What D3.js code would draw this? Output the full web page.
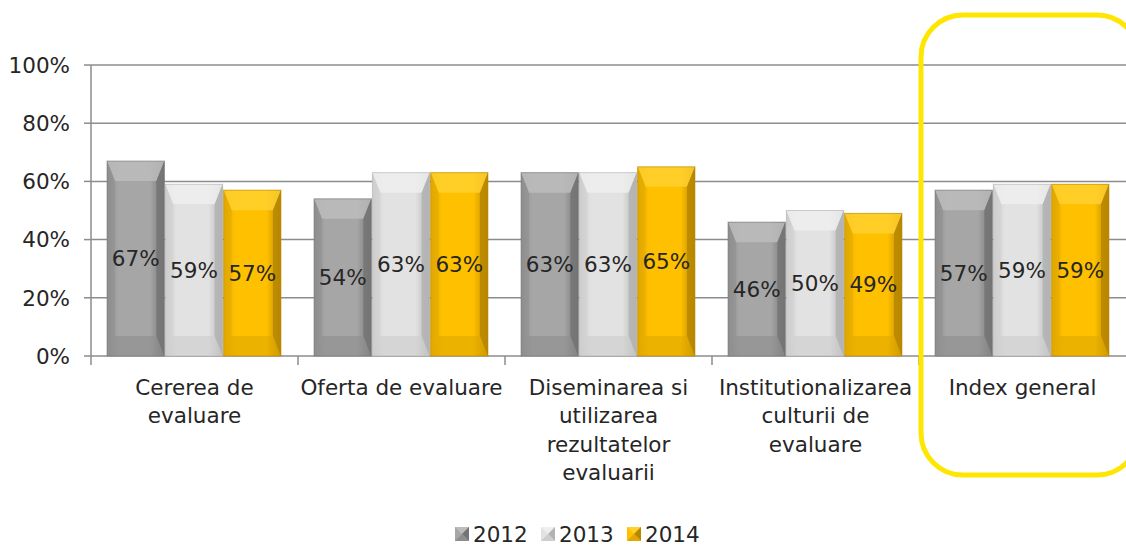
<!DOCTYPE html>
<html><head><meta charset="utf-8">
<script src="https://cdn.jsdelivr.net/npm/d3@7"></script>
<style>body{margin:0;background:#fff}svg{display:block}</style>
</head><body><svg id="c" width="1126" height="546"></svg>
<script>
const categories = [["Cererea de","evaluare"],["Oferta de evaluare"],["Diseminarea si","utilizarea","rezultatelor","evaluarii"],["Institutionalizarea","culturii de","evaluare"],["Index general"]];
const years = ["2012","2013","2014"];
const v2012 = [67,54,63,46,57];
const v2013 = [59,63,63,50,59];
const v2014 = [57,63,65,49,59];
const yTicks = [0,20,40,60,80,100];

const series = [v2012, v2013, v2014];
const colors = [
  {main:"#a6a6a6", light:"#bcbcbc", dark:"#747474", side:"#8e8e8e"},
  {main:"#e2e2e2", light:"#efefef", dark:"#b3b3b3", side:"#cdcdcd"},
  {main:"#ffc000", light:"#ffd02e", dark:"#b88700", side:"#e0a800"}
];
const font = "DejaVu Sans";
const fs = 21.5;
const svg = d3.select("#c");
const L = 91, R = 1126, T = 65, B = 356;
const x0 = d3.scaleBand().domain(d3.range(categories.length)).range([L, R]).paddingInner(0.155).paddingOuter(0.0775);
const x1 = d3.scaleBand().domain(d3.range(3)).range([0, x0.bandwidth()]);
const y = d3.scaleLinear().domain([0,100]).range([B, T]);

const defs = svg.append("defs");
colors.forEach((c,i)=>{
  const g = defs.append("linearGradient").attr("id","g"+i).attr("x1","0").attr("x2","1").attr("y1","0").attr("y2","0");
  g.append("stop").attr("offset","0").attr("stop-color",c.side);
  g.append("stop").attr("offset","0.2").attr("stop-color",c.main);
  g.append("stop").attr("offset","0.75").attr("stop-color",c.main);
  g.append("stop").attr("offset","1").attr("stop-color",c.dark);
});

svg.append("g").selectAll("line").data(yTicks).join("line")
  .attr("x1", L).attr("x2", R).attr("y1", d=>y(d)).attr("y2", d=>y(d))
  .attr("stroke","#8c8c8c").attr("stroke-width",1.5);
svg.append("line").attr("x1",L).attr("x2",L).attr("y1",T).attr("y2",B+9).attr("stroke","#8c8c8c").attr("stroke-width",1.5);
svg.append("g").selectAll("line").data(yTicks).join("line")
  .attr("x1", L-7).attr("x2", L).attr("y1", d=>y(d)).attr("y2", d=>y(d))
  .attr("stroke","#8c8c8c").attr("stroke-width",1.5);
svg.append("g").selectAll("text").data(yTicks).join("text")
  .attr("x", 70).attr("y", d=>y(d)).attr("dy","0.36em").attr("text-anchor","end")
  .attr("font-family",font).attr("font-size",fs).attr("fill","#262626").text(d=>d+"%");
const bounds = d3.range(1, categories.length).map(i => L + (R-L)/categories.length*i);
svg.append("g").selectAll("line").data(bounds).join("line")
  .attr("x1",d=>d).attr("x2",d=>d).attr("y1",B).attr("y2",B+9).attr("stroke","#8c8c8c").attr("stroke-width",1.5);

const gBars = svg.append("g");
categories.forEach((cat, ci) => {
  series.forEach((s, si) => {
    const c = colors[si];
    const bx = x0(ci) + x1(si), bw = x1.bandwidth() - 1;
    const by = y(s[ci]), bh = B - by;
    const g = gBars.append("g");
    g.append("rect").attr("x",bx).attr("y",by).attr("width",bw).attr("height",bh).attr("fill",`url(#g${si})`);
    const d = Math.min(20, bh/2), e = 8;
    g.append("path").attr("d",`M${bx},${by}L${bx+bw},${by}L${bx+bw-e},${by+d}L${bx+e},${by+d}Z`).attr("fill",c.light).attr("opacity",0.85);
    g.append("path").attr("d",`M${bx},${B}L${bx+bw},${B}L${bx+bw-e},${B-d}L${bx+e},${B-d}Z`).attr("fill",c.side).attr("opacity",0.6);
    g.append("path").attr("d",`M${bx},${by}L${bx+e},${by+d}L${bx+e},${B-d}L${bx},${B}Z`).attr("fill",c.side).attr("opacity",0.5);
    g.append("path").attr("d",`M${bx+bw},${by}L${bx+bw-e},${by+d}L${bx+bw-e},${B-d}L${bx+bw},${B}Z`).attr("fill",c.dark).attr("opacity",0.85);
    g.append("rect").attr("x",bx).attr("y",by).attr("width",bw).attr("height",bh).attr("fill","none").attr("stroke",c.dark).attr("stroke-width",1).attr("opacity",0.6);
    g.append("text").attr("x",bx+bw/2).attr("y",(by+B)/2).attr("dy","0.36em").attr("text-anchor","middle")
      .attr("font-family",font).attr("font-size",fs).attr("fill","#262626").text(s[ci]+"%");
  });
});

categories.forEach((lines, ci) => {
  const cx = L + (R-L)/categories.length*(ci+0.5);
  const t = svg.append("text").attr("x", cx).attr("y", 387)
    .attr("text-anchor","middle").attr("font-family",font).attr("font-size",fs).attr("fill","#262626");
  lines.forEach((l, li) => t.append("tspan").attr("x", cx).attr("dy", li===0 ? "0.36em" : 28.5).text(l));
});

const legX = [455, 541, 627];
years.forEach((yr, i) => {
  const c = colors[i];
  const lx = legX[i], ly = 527, s = 14;
  const g = svg.append("g");
  g.append("rect").attr("x",lx).attr("y",ly).attr("width",s).attr("height",s).attr("fill",c.main);
  g.append("path").attr("d",`M${lx},${ly}L${lx+s},${ly}L${lx+s/2},${ly+s/2}Z`).attr("fill",c.light);
  g.append("path").attr("d",`M${lx+s},${ly}L${lx+s},${ly+s}L${lx+s/2},${ly+s/2}Z`).attr("fill",c.dark);
  g.append("path").attr("d",`M${lx},${ly+s}L${lx+s},${ly+s}L${lx+s/2},${ly+s/2}Z`).attr("fill",c.side);
  g.append("text").attr("x",lx+s+4).attr("y",ly+s/2).attr("dy","0.36em").attr("font-family",font).attr("font-size",fs).attr("fill","#262626").text(yr);
});

svg.append("rect").attr("x",921).attr("y",15).attr("width",218).attr("height",460).attr("rx",42).attr("ry",42)
  .attr("fill","none").attr("stroke","#ffe600").attr("stroke-width",5);
</script></body></html>
